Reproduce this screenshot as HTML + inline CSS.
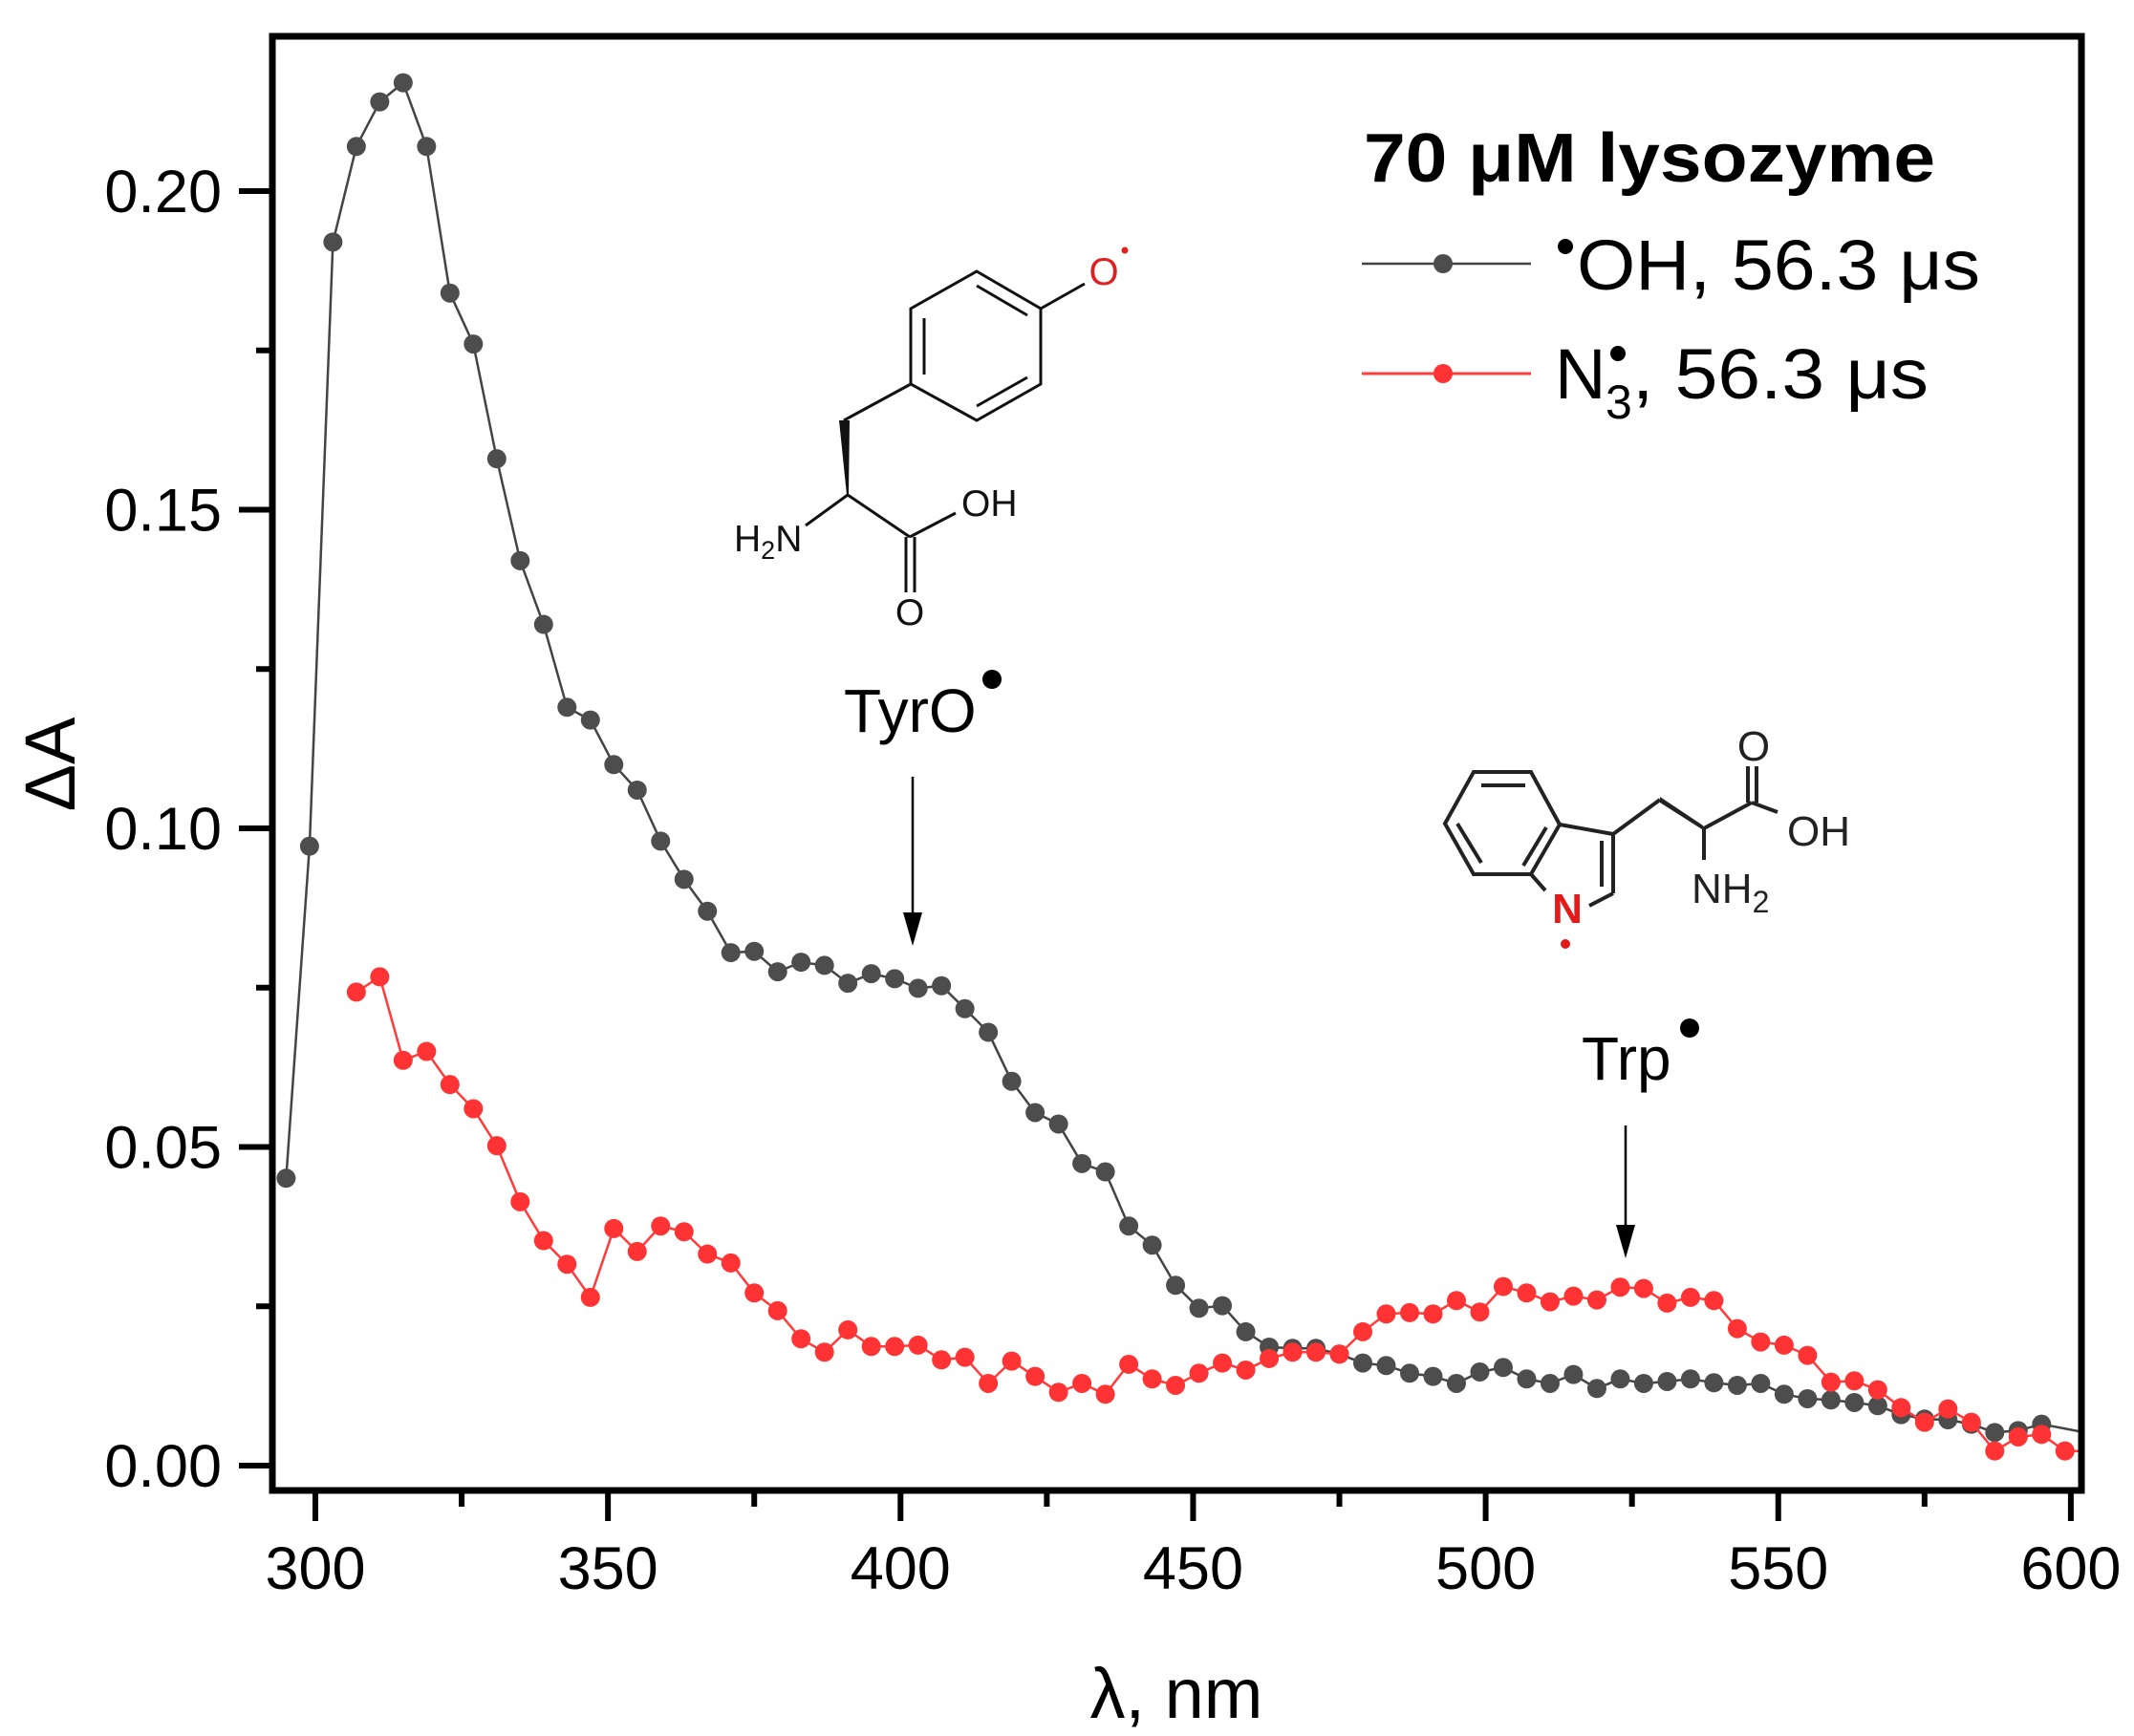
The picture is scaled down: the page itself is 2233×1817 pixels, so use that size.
<!DOCTYPE html>
<html><head><meta charset="utf-8">
<style>
html,body{margin:0;padding:0;background:#fff;}
svg{display:block;}
text{font-family:"Liberation Sans",Arial,sans-serif;}
</style></head>
<body>
<svg id="s" width="2233" height="1817" viewBox="0 0 2233 1817" xmlns="http://www.w3.org/2000/svg">
<defs><clipPath id="pc"><rect x="285" y="38" width="1893" height="1520"/></clipPath></defs>
<g id="series" clip-path="url(#pc)"></g>
<rect x="285" y="38" width="1893" height="1522" fill="none" stroke="#000" stroke-width="7"/>
<g id="ticks" stroke="#000" stroke-width="6"></g>
<g id="labels" font-size="63" fill="#000"></g>
<text x="0" y="0" font-size="74" transform="translate(78,800) rotate(-90)" text-anchor="middle">ΔA</text>
<text x="1231" y="1798" font-size="74" text-anchor="middle">λ, nm</text>

<text x="1427" y="190" font-size="72" font-weight="bold" textLength="598" lengthAdjust="spacingAndGlyphs">70 μM lysozyme</text>
<line x1="1425" y1="276" x2="1602" y2="276" stroke="#444" stroke-width="2.5"/>
<circle cx="1510" cy="276" r="10" fill="#4d4d4d"/>
<circle cx="1638" cy="258" r="8" fill="#000"/>
<text x="1650" y="303" font-size="74" textLength="422" lengthAdjust="spacingAndGlyphs">OH, 56.3 μs</text>
<line x1="1425" y1="391" x2="1602" y2="391" stroke="#ff3b3b" stroke-width="3"/>
<circle cx="1510" cy="391" r="10" fill="#ff3333"/>
<text x="1627" y="417" font-size="74">N</text>
<circle cx="1693" cy="370" r="8" fill="#000"/>
<text x="1680" y="438" font-size="50">3</text>
<text x="1708" y="417" font-size="74" textLength="310" lengthAdjust="spacingAndGlyphs">, 56.3 μs</text>

<text x="883" y="766" font-size="64">TyrO</text>
<circle cx="1038" cy="711" r="10" fill="#000"/>
<line x1="955" y1="813" x2="955" y2="965" stroke="#000" stroke-width="2.5"/>
<polygon points="945,955 965,955 955,990" fill="#000"/>
<text x="1655" y="1130" font-size="64">Trp</text>
<circle cx="1768" cy="1076" r="10" fill="#000"/>
<line x1="1701" y1="1178" x2="1701" y2="1292" stroke="#000" stroke-width="2.5"/>
<polygon points="1691,1282 1711,1282 1701,1317" fill="#000"/>

<g stroke="#111" stroke-width="3" fill="none">
<polygon points="1022,284 1089,323 1089,402 1022,440 953,402 953,323"/>
<line x1="967" y1="333" x2="967" y2="392"/>
<line x1="1022" y1="299" x2="1075" y2="330"/>
<line x1="1022" y1="425" x2="1075" y2="395"/>
<line x1="1089" y1="323" x2="1135" y2="297"/>
<line x1="953" y1="402" x2="883" y2="440"/>
<line x1="887" y1="518" x2="843" y2="550"/>
<line x1="887" y1="518" x2="952" y2="562"/>
<line x1="952" y1="562" x2="1000" y2="537"/>
<line x1="948" y1="562" x2="948" y2="620"/>
<line x1="957" y1="562" x2="957" y2="620"/>
</g>
<polygon points="878,440 889,440 888,518 886,518" fill="#111"/>
<text x="1155" y="298" font-size="40" fill="#e02020" text-anchor="middle">O</text>
<circle cx="1177" cy="262" r="3.5" fill="#e02020"/>
<text x="768" y="577" font-size="39" fill="#111">H<tspan font-size="27" dy="8">2</tspan><tspan dy="-8">N</tspan></text>
<text x="1006" y="540" font-size="39" fill="#111">OH</text>
<text x="952" y="654" font-size="39" fill="#111" text-anchor="middle">O</text>

<g stroke="#222" stroke-width="4" fill="none">
<polyline points="1602,915 1542,915 1512,862 1542,808 1602,808 1632,863 1602,915"/>
<line x1="1550" y1="822" x2="1596" y2="822"/>
<line x1="1525" y1="862" x2="1550" y2="903"/>
<line x1="1618" y1="866" x2="1594" y2="906"/>
<line x1="1632" y1="863" x2="1688" y2="873"/>
<line x1="1688" y1="873" x2="1688" y2="935"/>
<line x1="1676" y1="880" x2="1676" y2="928"/>
<line x1="1688" y1="935" x2="1663" y2="948"/>
<line x1="1602" y1="915" x2="1617" y2="932"/>
<line x1="1688" y1="873" x2="1737" y2="837"/>
<line x1="1783" y1="867" x2="1783" y2="900"/>
<line x1="1783" y1="867" x2="1833" y2="840"/>
<line x1="1829" y1="840" x2="1829" y2="802"/>
<line x1="1838" y1="840" x2="1838" y2="802"/>
<line x1="1833" y1="840" x2="1860" y2="850"/>
</g>
<polygon points="1737,834 1737,840 1784,870 1782,864" fill="#222"/>
<text x="1640" y="966" font-size="44" font-weight="bold" fill="#e41a1a" text-anchor="middle">N</text>
<circle cx="1638" cy="988" r="5" fill="#e41a1a"/>
<text x="1770" y="945" font-size="44" fill="#222">NH<tspan font-size="32" dy="10">2</tspan></text>
<text x="1870" y="885" font-size="44" fill="#222">OH</text>
<text x="1835" y="796" font-size="44" fill="#222" text-anchor="middle">O</text>
</svg>
<script>
var NS="http://www.w3.org/2000/svg";
function X(nm){return 330+(nm-300)*6.123;}
function Y(v){return 1534-v*6670;}
var blk=[0.0451,0.0972,0.192,0.207,0.214,0.217,0.207,0.184,0.176,0.158,0.142,0.132,0.119,0.117,0.110,0.106,0.098,0.092,0.087,0.0805,0.0807,0.0775,0.079,0.0785,0.0757,0.0772,0.0764,0.0749,0.0753,0.0717,0.068,0.0603,0.0554,0.0536,0.0474,0.0461,0.0376,0.0346,0.0283,0.0247,0.0251,0.021,0.0186,0.0184,0.0184,0.0175,0.0161,0.0157,0.0145,0.014,0.0129,0.0147,0.0154,0.0136,0.0129,0.0143,0.0121,0.0136,0.0129,0.0132,0.0136,0.013,0.0126,0.0129,0.0112,0.0105,0.0103,0.0099,0.0094,0.008,0.0073,0.0072,0.0065,0.0052,0.0055,0.0065];
var red=[0.0743,0.0767,0.0636,0.065,0.0598,0.056,0.0502,0.0414,0.0353,0.0316,0.0264,0.0372,0.0336,0.0376,0.0367,0.0332,0.0318,0.0271,0.0243,0.0199,0.0178,0.0213,0.0187,0.0187,0.0189,0.0166,0.017,0.0129,0.0164,0.014,0.0115,0.0129,0.0112,0.0159,0.0136,0.0126,0.0145,0.0161,0.015,0.0168,0.0178,0.0178,0.0175,0.021,0.0238,0.024,0.0238,0.0259,0.0241,0.0281,0.0271,0.0257,0.0266,0.026,0.028,0.0278,0.0255,0.0264,0.0259,0.0215,0.0194,0.0189,0.0173,0.0131,0.0133,0.0119,0.0091,0.0068,0.0089,0.0068,0.0023,0.0045,0.0049,0.0023,0.0023];
var g=document.getElementById("series");
function series(vals,start,lc,mc,lw,extra){
  var pts=[];for(var i=0;i<vals.length;i++)pts.push([X(start+4*i),Y(vals[i])]);
  if(extra)pts.push([X(extra[0]),Y(extra[1])]);
  var pl=document.createElementNS(NS,"polyline");
  pl.setAttribute("points",pts.map(function(p){return p[0].toFixed(1)+","+p[1].toFixed(1)}).join(" "));
  pl.setAttribute("fill","none");pl.setAttribute("stroke",lc);pl.setAttribute("stroke-width",lw);
  g.appendChild(pl);
  for(var i=0;i<vals.length;i++){var c=document.createElementNS(NS,"circle");
    c.setAttribute("cx",pts[i][0]);c.setAttribute("cy",pts[i][1]);c.setAttribute("r",10);c.setAttribute("fill",mc);g.appendChild(c);}
}
series(blk,295,"#444","#4d4d4d",2.5,[603,0.0051]);
series(red,307,"#ff3b3b","#ff3333",2.5,null);
var t=document.getElementById("ticks"),L=document.getElementById("labels");
function ln(x1,y1,x2,y2){var l=document.createElementNS(NS,"line");l.setAttribute("x1",x1);l.setAttribute("y1",y1);l.setAttribute("x2",x2);l.setAttribute("y2",y2);t.appendChild(l);}
function tx(x,y,s,a){var e=document.createElementNS(NS,"text");e.setAttribute("x",x);e.setAttribute("y",y);e.setAttribute("text-anchor",a);e.textContent=s;L.appendChild(e);}
for(var nm=300;nm<=600;nm+=25){var x=X(nm);var maj=(nm%50==0);ln(x,1560,x,maj?1592:1577);if(maj)tx(x,1663,String(nm),"middle");}
for(var k=0;k<=8;k++){var v=k*0.025,y=Y(v);var maj=(k%2==0);ln(285,y,maj?250:268,y);if(maj)tx(232,y+22,v.toFixed(2),"end");}
</script>
</body></html>
